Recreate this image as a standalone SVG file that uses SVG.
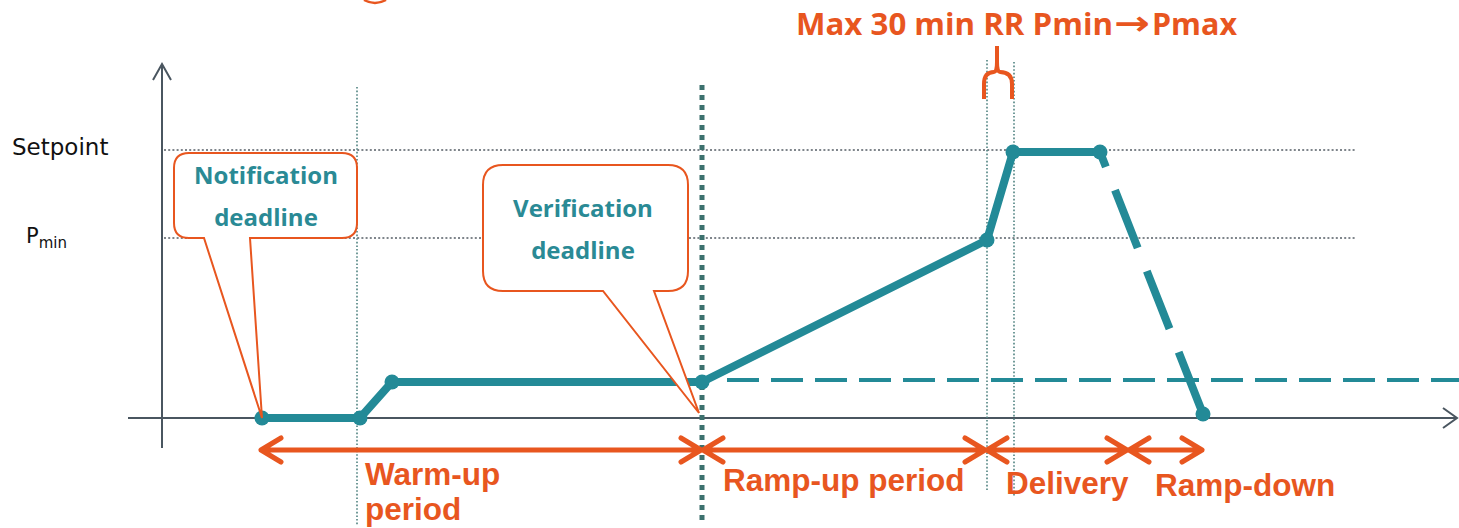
<svg xmlns="http://www.w3.org/2000/svg" width="1459" height="528" viewBox="0 0 1459 528">
<style>
.axis{stroke:#4A5660;stroke-width:2;fill:none}
.grid{stroke:#555E66;stroke-width:1.6;stroke-dasharray:2 2.2;fill:none}
.vgrid{stroke:#4F8280;stroke-width:1.6;stroke-dasharray:1.6 2;fill:none}
.vthick{stroke:#3D716E;stroke-width:5;stroke-dasharray:5 5;fill:none}
.curve{stroke:#238A97;stroke-width:8;fill:none;stroke-linejoin:round}
.dot{fill:#238A97}
.arr{stroke:#E8561F;stroke-width:5;fill:none;stroke-linecap:round;stroke-linejoin:round}
.call{fill:#fff;stroke:#E8561F;stroke-width:2}
.callt{font-family:"Open Sans","Liberation Sans",sans-serif;font-weight:bold;font-size:24px;fill:#2A8A95;text-anchor:middle}
.lab{font-family:"Liberation Sans",Arial,sans-serif;font-weight:bold;font-size:31.5px;fill:#E8561F}
.ttl{font-family:"Open Sans","Liberation Sans",sans-serif;font-weight:bold;font-size:30px;fill:#E8561F}
.ylab{font-family:"DejaVu Sans",Verdana,sans-serif;fill:#111}
</style>
<g id="axes">
<path class="axis" d="M162,448 V64 M153,80 L162,64 L171,80"/>
<path class="axis" d="M128,418 H1457 M1443,408 L1457,418 L1443,428"/>
</g>
<g id="gridlines">
<line class="grid" x1="164" y1="150" x2="1355" y2="150"/>
<line class="grid" x1="164" y1="238" x2="1355" y2="238"/>
<line class="vgrid" x1="357" y1="87" x2="357" y2="526"/>
<line class="vgrid" x1="987" y1="60" x2="987" y2="490"/>
<line class="vgrid" x1="1014" y1="62" x2="1014" y2="496"/>
<line class="vthick" x1="702" y1="85" x2="702" y2="522"/>
</g>
<g id="ylabels">
<text class="ylab" x="12" y="155" font-size="23">Setpoint</text>
<text class="ylab" x="26" y="243" font-size="21">P<tspan font-size="15" dy="5">min</tspan></text>
</g>
<path d="M364,0 Q375,6 386,0" fill="none" stroke="#E8561F" stroke-width="2.5"/>
<g id="connectors">
<polyline class="curve" points="262,418 360,418 392,382 702,382 987,240 1013,152 1100,152"/>
<line class="curve" x1="1100" y1="152" x2="1203" y2="414" stroke-dasharray="62 25" stroke-dashoffset="46" stroke-linecap="butt"/>
<line x1="727" y1="380" x2="1459" y2="380" stroke="#238A97" stroke-width="4" stroke-dasharray="32 12"/>
<g class="dot">
<circle cx="262" cy="418" r="7.5"/><circle cx="360" cy="418" r="7.5"/><circle cx="392" cy="382" r="7.5"/><circle cx="702" cy="382" r="7.5"/><circle cx="987" cy="240" r="7.5"/><circle cx="1013" cy="152" r="7.5"/><circle cx="1100" cy="152" r="7.5"/><circle cx="1203" cy="414" r="7.5"/>
</g>
<path class="arr" d="M261,450 H701 M281,438 L261,450 L281,462 M681,438 L701,450 L681,462"/>
<path class="arr" d="M703,450 H985 M723,438 L703,450 L723,462 M965,438 L985,450 L965,462"/>
<path class="arr" d="M987,450 H1127 M1007,438 L987,450 L1007,462 M1107,438 L1127,450 L1107,462"/>
<path class="arr" d="M1129,450 H1202 M1149,438 L1129,450 L1149,462 M1182,438 L1202,450 L1182,462"/>
<path d="M984,99 V84 Q984,72 994,72 Q997,72 997,62 V46 M997,62 Q997,72 1000,72 Q1012,72 1012,84 V99" fill="none" stroke="#E8561F" stroke-width="4"/>
</g>
<g id="notification">
<path class="call" d="M189,153 H342 Q357,153 357,168 V223 Q357,238 342,238 H250 L262,418 L204,238 H189 Q174,238 174,223 V168 Q174,153 189,153 Z"/>
<text class="callt" x="266" y="184">Notification</text>
<text class="callt" x="266" y="226">deadline</text>
</g>
<g id="verification">
<path class="call" d="M503,165 H668 Q688,165 688,185 V271 Q688,291 668,291 H654 L699,413 L603,291 H503 Q483,291 483,271 V185 Q483,165 503,165 Z"/>
<text class="callt" x="583" y="217">Verification</text>
<text class="callt" x="583" y="259">deadline</text>
</g>
<g id="labels">
<text class="ttl" x="796" y="35" textLength="317" lengthAdjust="spacingAndGlyphs">Max 30 min RR Pmin</text>
<text x="1114" y="35" font-family="'DejaVu Sans',sans-serif" font-weight="bold" font-size="34" fill="#E8561F" textLength="36" lengthAdjust="spacingAndGlyphs">→</text>
<text class="ttl" x="1152" y="35" textLength="85" lengthAdjust="spacingAndGlyphs">Pmax</text>
<text class="lab" x="365" y="485">Warm-up</text>
<text class="lab" x="365" y="520">period</text>
<text class="lab" x="723" y="491">Ramp-up period</text>
<text class="lab" x="1006" y="494">Delivery</text>
<text class="lab" x="1155" y="496">Ramp-down</text>
</g>
</svg>
